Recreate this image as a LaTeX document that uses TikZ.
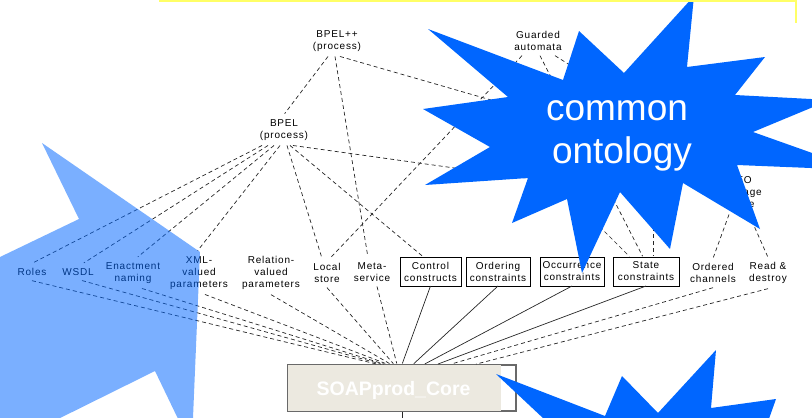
\documentclass[tikz,border=0pt]{standalone}
\usepackage{fontspec}
\setmainfont{Liberation Sans}
\newfontfamily\labelfont{Liberation Sans}[LetterSpace=8]
\definecolor{starblue}{RGB}{0,102,255}
\definecolor{corefill}{RGB}{236,233,224}
\definecolor{coreedge}{RGB}{105,105,105}
\definecolor{frameyellow}{RGB}{255,255,102}
\begin{document}
\begin{tikzpicture}[x=1pt,y=-1pt,
  lbl/.style={font={\labelfont\fontsize{10}{12}\selectfont}, align=center, inner sep=2pt, outer sep=3pt},
  featbox/.style={lbl, draw=black, line width=0.8pt, minimum height=29pt, inner sep=1pt, outer sep=0pt},
  dep/.style={draw=black!85, line width=0.7pt, dash pattern=on 4pt off 3pt, shorten >=1pt},
  impl/.style={draw=black!85, line width=0.7pt, shorten >=1pt},
  burst/.style={fill=starblue, draw=none},
  bursttext/.style={text=white, font=\fontsize{37}{40}\selectfont, anchor=base, inner sep=0pt},
  corebox/.style={draw=coreedge, line width=1.2pt, minimum width=228pt, minimum height=46pt, inner sep=0pt},
  coretext/.style={text=white, font=\bfseries\fontsize{19.5}{22}\selectfont, anchor=base, inner sep=0pt}]
\useasboundingbox (0,0) rectangle (812,418);
\clip (0,0) rectangle (812,418);

% upper layer: languages and models
\node[lbl] (bpelpp)  at (337,41)  {BPEL++\\(process)};
\node[lbl] (guarded) at (538,41)  {Guarded\\automata};
\node[lbl] (bpel)    at (284,130) {BPEL\\(process)};
\node[lbl] (fifo)    at (739,193) {FIFO\\message\\queue};
\coordinate (jA) at (555,182);
\coordinate (jB) at (653,150);

% feature row
\node[lbl] (roles)   at (32,272)  {Roles};
\node[lbl] (wsdl)    at (78,272)  {WSDL};
\node[lbl] (enact)   at (133,273) {Enactment\\naming};
\node[lbl] (xml)     at (199,273) {XML-\\valued\\parameters};
\node[lbl] (rel)     at (271,273) {Relation-\\valued\\parameters};
\node[lbl] (local)   at (327,273) {Local\\store};
\node[lbl] (meta)    at (372,272) {Meta-\\service};
\node[featbox, text width=59pt] (control)  at (430.5,271.5) {Control\\constructs};
\node[featbox, text width=62pt] (ordering) at (498,271.5)   {Ordering\\constraints};
\node[featbox, text width=62pt] (occ)      at (572,271.5)   {Occurrence\\constraints};
\node[featbox, text width=64pt] (state)    at (646,271.5)   {State\\constraints};
\node[lbl] (ordered) at (713,273) {Ordered\\channels};
\node[lbl] (read)    at (768,273) {Read \&\\destroy};

% core component
\node[corebox] (core) at (402,388) {};
\fill[corefill] ([shift={(1,1)}]core.north west) rectangle ([shift={(-16,-1)}]core.south east);
\node[coretext] (coretitle) at (393.5,395) {SOAPprod\_Core};
\draw[impl] (core.south) -- ++(0,10);

% dependencies between the upper nodes and the features
\draw[dep] ([xshift=-9pt]bpelpp.south) -- (bpel.north);
\draw[dep] ([xshift=-2pt]bpelpp.south) -- ([xshift=-4pt]meta.north);
\draw[dep] ([xshift=3pt]bpelpp.south) -- (fifo.north);
\draw[dep] ([xshift=-22pt]bpel.south) -- (roles.north);
\draw[dep] ([xshift=-16pt]bpel.south) -- ([xshift=5pt]wsdl.north);
\draw[dep] ([xshift=-10pt]bpel.south) -- ([xshift=4pt]enact.north);
\draw[dep] ([xshift=-4pt]bpel.south) -- ([xshift=-2pt]xml.north);
\draw[dep] ([xshift=3pt]bpel.south) -- ([xshift=-5pt]local.north);
\draw[dep] ([xshift=6pt]bpel.south) -- ([xshift=-7pt]control.north);
\draw[dep] ([xshift=9pt]bpel.south) -- (jA);
\draw[dep] ([xshift=-16pt]guarded.south) -- ([xshift=3pt]local.north);
\draw[dep] ([xshift=2pt]guarded.south) -- ([xshift=-3pt]state.north);
\draw[dep] ([xshift=17pt]guarded.south) -- (fifo.north);
\draw[dep] (jA) -- ([xshift=-16pt]state.north);
\draw[dep] (jB) -- ([xshift=7pt]state.north);
\draw[dep] ([xshift=-10pt]fifo.south) -- (ordered.north);
\draw[dep] ([xshift=10pt]fifo.south) -- (read.north);

% features feeding the core
\draw[dep] (roles.south) -- ([xshift=-24pt]core.north);
\draw[dep] ([xshift=4pt]wsdl.south) -- ([xshift=-20pt]core.north);
\draw[dep] ([xshift=9pt]enact.south) -- ([xshift=-17pt]core.north);
\draw[dep] ([xshift=6pt]xml.south) -- ([xshift=-14pt]core.north);
\draw[dep] (rel.south) -- ([xshift=-11pt]core.north);
\draw[dep] (local.south) -- ([xshift=-8pt]core.north);
\draw[dep] ([xshift=5pt]meta.south) -- ([xshift=-5pt]core.north);
\draw[impl] (control.south) -- (core.north);
\draw[impl] (ordering.south) -- ([xshift=11pt]core.north);
\draw[impl] (occ.south) -- ([xshift=22pt]core.north);
\draw[impl] (state.south) -- ([xshift=35pt]core.north);
\draw[dep] (ordered.south) -- ([xshift=48pt]core.north);
\draw[dep] (read.south) -- ([xshift=73pt]core.north);

% translucent arrow shape on the left
\fill[starblue, fill opacity=0.52]
  (42,143) -- (200,252) -- (192.7,425) -- (181,425) -- (155,371) -- (46,425)
  -- (-5,425) -- (-5,259.4) -- (79,219) -- cycle;

% burst with the caption
\fill[burst]
  (694,-4) -- (687,67) -- (765,57) -- (735,95) -- (830,100) -- (753,132)
  -- (860,170) -- (737,165) -- (760,229) -- (683,183) -- (670,249)
  -- (620,192) -- (582,273) -- (567,199) -- (512,223) -- (528,178)
  -- (425,185) -- (490,147) -- (423,109) -- (508,97) -- (428,29)
  -- (563,80) -- (579,31) -- (624,73) -- cycle;
\node[bursttext] (cap1) at (617,120) {common};
\node[bursttext] (cap2) at (622,163) {ontology};

% second burst at the lower edge
\fill[burst]
  (560,434) -- (496,374) -- (605,416) -- (622,376) -- (658,413) -- (716,350)
  -- (711,408) -- (776,399) -- (765,430) -- cycle;

% frame edge along the top
\draw[frameyellow, line width=2.5pt] (159,1) -- (796,1) -- (796,23);
\end{tikzpicture}
\end{document}
